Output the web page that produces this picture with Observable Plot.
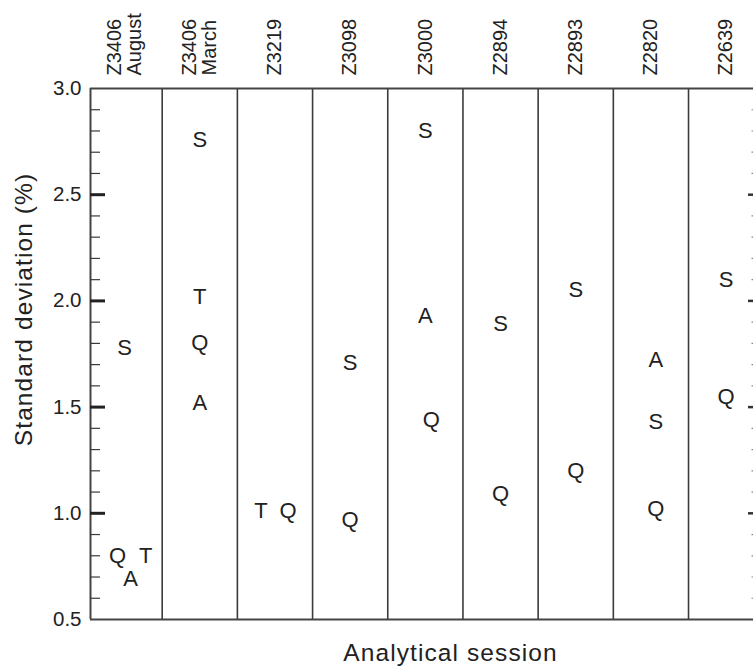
<!DOCTYPE html>
<html>
<head>
<meta charset="utf-8">
<script src="https://cdn.jsdelivr.net/npm/d3@7"></script>
<script src="https://cdn.jsdelivr.net/npm/@observablehq/plot@0.6"></script>
<style>
  body { margin: 0; background: #fff; }
  #chart svg { overflow: visible; }
  #chart .ttl text { letter-spacing: 1.1px; }
</style>
</head>
<body>
<div id="chart"></div>
<script>
// ---- data ----
const sessions = ["Z3406\nAugust", "Z3406\nMarch", "Z3219", "Z3098", "Z3000", "Z2894", "Z2893", "Z2820", "Z2639"];
const letters = ["S", "Q", "T", "A"];
const seriesS = [1.78, 2.76, null, 1.71, 2.80, 1.89, 2.05, 1.43, 2.10];
const seriesQ = [0.80, 1.80, 1.01, 0.97, 1.44, 1.09, 1.20, 1.02, 1.55];
const seriesT = [0.80, 2.02, 1.01, null, null, null, null, null, null];
const seriesA = [0.69, 1.52, null, null, 1.93, null, null, 1.72, null];
const yLabelTicks = [0.5, 1.0, 1.5, 2.0, 2.5, 3.0];
const yMajorTicks = [1.0, 1.5, 2.0, 2.5];
const yMinorTicks = [0.6, 0.7, 0.8, 0.9, 1.1, 1.2, 1.3, 1.4, 1.6, 1.7, 1.8, 1.9, 2.1, 2.2, 2.3, 2.4, 2.6, 2.7, 2.8, 2.9];
const xTitle = "Analytical session";
const yTitle = "Standard deviation (%)";

// ---- layout ----
const W = 753, H = 667;
const mL = 90, mR = 0, mT = 88, mB = 48;
const frameW = W - mL - mR;
const colW = 75.19;                 // px per session
const xMin = -0.4535, xMax = xMin + frameW / colW;
const font = "'Liberation Sans', Arial, Helvetica, sans-serif";
const ink = "#222";
const lineC = "#3b3b3b";

// small horizontal nudges (px) to keep overlapping letters apart, as in the reference
const nudge = {"0|Q": -7, "0|T": 21, "0|A": 6, "2|T": -14, "2|Q": 13, "4|Q": 6, "7|A": 5, "7|S": 5, "7|Q": 5};

const seriesBy = {S: seriesS, Q: seriesQ, T: seriesT, A: seriesA};
const rows = [];
for (const L of letters) {
  seriesBy[L].forEach((v, i) => { if (v != null) rows.push({session: i, letter: L, value: v}); });
}
const sessionIdx = sessions.map((_, i) => i);

const chart = Plot.plot({
  width: W, height: H,
  marginLeft: mL, marginRight: mR, marginTop: mT, marginBottom: mB,
  style: {fontFamily: font, color: ink, background: "#fff"},
  x: {domain: [xMin, xMax], axis: null},
  y: {domain: [0.5, 3.0], axis: null},
  marks: [
    // column separators
    Plot.ruleX(sessionIdx.slice(1).map(i => i - 0.5), {stroke: lineC, strokeWidth: 1.6}),
    // frame: top, bottom, left
    Plot.ruleY([0.5, 3.0], {stroke: "#444", strokeWidth: 2}),
    Plot.ruleX([xMin], {stroke: "#444", strokeWidth: 2}),
    // left ticks
    Plot.tickY(yMinorTicks, {y: d => d, insetRight: frameW - 10, stroke: lineC, strokeWidth: 1.2}),
    Plot.tickY(yMajorTicks, {y: d => d, insetRight: frameW - 15, stroke: "#222", strokeWidth: 3}),
    // right ticks
    Plot.tickY(yMajorTicks, {y: d => d, insetLeft: frameW - 5, stroke: "#333", strokeWidth: 2.5}),
    Plot.tickY(yMinorTicks, {y: d => d, insetLeft: frameW - 1.5, stroke: "#888", strokeWidth: 1.2}),
    // y tick labels
    Plot.text(yLabelTicks, {y: d => d, frameAnchor: "left", dx: -9, textAnchor: "end", lineAnchor: "middle",
      text: d => d3.format(".1f")(d), fontSize: 20.5, fill: ink}),
    // session labels (top, rotated)
    Plot.text(sessionIdx, {x: d => d, frameAnchor: "top", dy: -13, rotate: -90, textAnchor: "start",
      lineAnchor: "middle", lineHeight: 0.98, text: i => sessions[i], fontSize: 20, fill: ink}),
    // letters
    Plot.text(rows, {x: d => d.session + (nudge[d.session + "|" + d.letter] || 0) / colW, y: "value",
      text: "letter", fontSize: 22, fill: ink}),
    // titles
    Plot.text([xTitle], {frameAnchor: "bottom", dx: 450 - (mL + frameW / 2), dy: 34, fontSize: 24.5, fill: ink,
      textAnchor: "middle", lineAnchor: "middle", className: "ttl"}),
    Plot.text([yTitle], {frameAnchor: "left", rotate: -90, dx: 24 - mL, dy: 309 - (mT + (H - mT - mB) / 2),
      fontSize: 24.5, fill: ink, textAnchor: "middle", lineAnchor: "middle", className: "ttl"})
  ]
});
document.getElementById("chart").appendChild(chart);
</script>
</body>
</html>
